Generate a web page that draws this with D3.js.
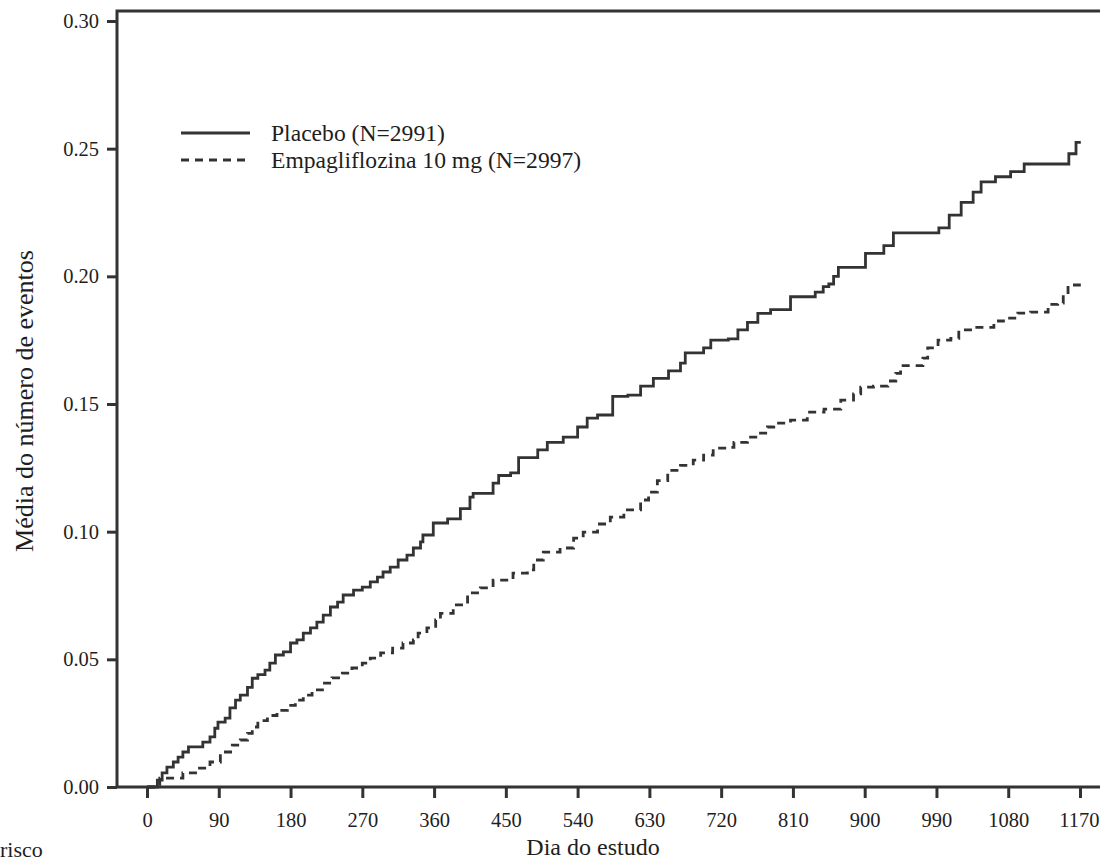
<!DOCTYPE html>
<html>
<head>
<meta charset="utf-8">
<script src="https://cdn.jsdelivr.net/npm/d3@7"></script>
<style>
  body { margin: 0; background: #fff; }
  svg text { font-family: "Liberation Serif", "Times New Roman", serif; fill: #1e1e1e; }
</style>
</head>
<body>
<svg id="chart" width="1100" height="862"></svg>
<script>
// dias / media acumulada de eventos
let placeboDays = [0, 13, 19, 25, 33, 39, 45, 52, 70, 79, 85, 89, 98, 104, 111, 117, 126, 132, 139, 148,
  154, 161, 171, 180, 188, 196, 205, 213, 221, 230, 239, 246, 259, 270, 280, 289, 296, 305, 315, 326,
  334, 343, 346, 359, 377, 393, 405, 409, 434, 441, 456, 466, 490, 502, 522, 540, 552, 565, 584, 603,
  619, 635, 654, 669, 675, 698, 707, 729, 741, 753, 766, 782, 807, 838, 848, 855, 861, 867, 901, 924,
  936, 993, 1006, 1021, 1036, 1046, 1064, 1083, 1100, 1156, 1165, 1171];
let placeboVals = [0, 0.0027, 0.0055, 0.0078, 0.0098, 0.0117, 0.0137, 0.0157, 0.0176, 0.0196, 0.023, 0.0254, 0.027, 0.031, 0.034, 0.036, 0.039, 0.0426, 0.044, 0.0458,
  0.0485, 0.0517, 0.0529, 0.0564, 0.0576, 0.0603, 0.0623, 0.0646, 0.0673, 0.0705, 0.0724, 0.0752, 0.0771, 0.0783, 0.0803, 0.0822, 0.0842, 0.0861, 0.0889, 0.0908,
  0.0936, 0.096, 0.0987, 0.1034, 0.105, 0.109, 0.1135, 0.115, 0.119, 0.122, 0.123, 0.129, 0.132, 0.135, 0.137, 0.141, 0.1445, 0.1457, 0.153, 0.1535,
  0.157, 0.160, 0.163, 0.166, 0.170, 0.172, 0.175, 0.1755, 0.179, 0.182, 0.1855, 0.187, 0.192, 0.1938, 0.196, 0.197, 0.200, 0.2035, 0.209, 0.212,
  0.217, 0.219, 0.224, 0.229, 0.233, 0.237, 0.239, 0.241, 0.244, 0.248, 0.2525, 0.2525];

let empaDays = [0, 16, 45, 63, 79, 92, 107, 117, 126, 132, 139, 151, 163, 176, 186, 196, 207, 220, 232, 245,
  257, 270, 280, 293, 308, 321, 334, 340, 351, 362, 368, 384, 402, 418, 434, 459, 477, 485, 497, 518,
  535, 547, 565, 581, 598, 619, 629, 640, 653, 669, 685, 698, 710, 728, 736, 753, 766, 778, 786, 807,
  828, 849, 870, 886, 895, 911, 929, 939, 945, 962, 973, 979, 992, 1008, 1018, 1037, 1062, 1074, 1092, 1108,
  1130, 1142, 1149, 1155, 1171];
let empaVals = [0, 0.0035, 0.0055, 0.0074, 0.0098, 0.0137, 0.0164, 0.0184, 0.021, 0.0235, 0.026, 0.028, 0.030, 0.032, 0.034, 0.036, 0.038, 0.0407, 0.0427, 0.0446,
  0.0466, 0.0485, 0.0505, 0.0525, 0.0544, 0.0564, 0.0576, 0.0603, 0.0623, 0.0654, 0.068, 0.0713, 0.076, 0.078, 0.081, 0.0838, 0.085, 0.0889, 0.092, 0.0936,
  0.0975, 0.0998, 0.103, 0.1057, 0.1085, 0.1124, 0.1155, 0.120, 0.124, 0.126, 0.128, 0.130, 0.1327, 0.133, 0.135, 0.137, 0.1386, 0.141, 0.1425, 0.1437,
  0.1468, 0.148, 0.1515, 0.154, 0.1566, 0.157, 0.159, 0.162, 0.165, 0.165, 0.168, 0.172, 0.175, 0.1757, 0.179, 0.180, 0.1825, 0.1836, 0.1856, 0.186,
  0.189, 0.1895, 0.1926, 0.1966, 0.1966];

let xTicks = [0, 90, 180, 270, 360, 450, 540, 630, 720, 810, 900, 990, 1080, 1170];
let yTicks = [0, 0.05, 0.10, 0.15, 0.20, 0.25, 0.30];
let legendLabels = ['Placebo (N=2991)', 'Empagliflozina 10 mg (N=2997)'];

let svg = d3.select('#chart');
let ink = '#333';

let x = d3.scaleLinear().domain([0, 1170]).range([147, 1080]);
let y = d3.scaleLinear().domain([0, 0.30]).range([787, 21]);

// moldura (o lado direito fica fora da imagem)
svg.append('path')
  .attr('d', 'M1110,11 H117 V787 H1110')
  .attr('fill', 'none').attr('stroke', ink).attr('stroke-width', 3);

let yAxis = svg.append('g').attr('transform', 'translate(117,0)')
  .call(d3.axisLeft(y).tickValues(yTicks).tickSize(10).tickPadding(8).tickFormat(d3.format('.2f')));
let xAxis = svg.append('g').attr('transform', 'translate(0,787)')
  .call(d3.axisBottom(x).tickValues(xTicks).tickSize(11).tickPadding(14).tickFormat(d3.format('d')));

[yAxis, xAxis].forEach(function(ax) {
  ax.select('.domain').remove();
  ax.selectAll('.tick line').attr('stroke', ink).attr('stroke-width', 3);
  ax.selectAll('.tick text').attr('font-size', 20.5).attr('fill', '#1e1e1e')
    .attr('font-family', '"Liberation Serif", serif');
});
// ultimo rotulo encostado na borda direita
xAxis.selectAll('.tick text').filter(function(d) { return d === 1170; })
  .attr('text-anchor', 'end').attr('x', 19);

let line = d3.line()
  .x(function(d) { return x(d[0]); })
  .y(function(d) { return y(d[1]); })
  .curve(d3.curveStepAfter);

let placebo = placeboDays.map(function(d, i) { return [d, placeboVals[i]]; });
let empa = empaDays.map(function(d, i) { return [d, empaVals[i]]; });

svg.append('path').datum(placebo).attr('d', line)
  .attr('fill', 'none').attr('stroke', ink).attr('stroke-width', 2.8);
svg.append('path').datum(empa).attr('d', line)
  .attr('fill', 'none').attr('stroke', ink).attr('stroke-width', 2.8)
  .attr('stroke-dasharray', '8,6');

// legenda
let lg = svg.append('g');
lg.append('line').attr('x1', 181).attr('x2', 250).attr('y1', 133).attr('y2', 133)
  .attr('stroke', ink).attr('stroke-width', 2.8);
lg.append('line').attr('x1', 181).attr('x2', 250).attr('y1', 160).attr('y2', 160)
  .attr('stroke', ink).attr('stroke-width', 2.8).attr('stroke-dasharray', '8,6');
lg.append('text').attr('x', 271).attr('y', 141).attr('font-size', 23.6).text(legendLabels[0]);
lg.append('text').attr('x', 271).attr('y', 168).attr('font-size', 23.6).text(legendLabels[1]);

// titulos
svg.append('text').attr('x', 593).attr('y', 855).attr('text-anchor', 'middle')
  .attr('font-size', 24).text('Dia do estudo');
svg.append('text').attr('transform', 'translate(33,401) rotate(-90)').attr('text-anchor', 'middle')
  .attr('font-size', 26).text('Média do número de eventos');
svg.append('text').attr('x', 0).attr('y', 857).attr('font-size', 22).text('risco');
</script>
</body>
</html>
